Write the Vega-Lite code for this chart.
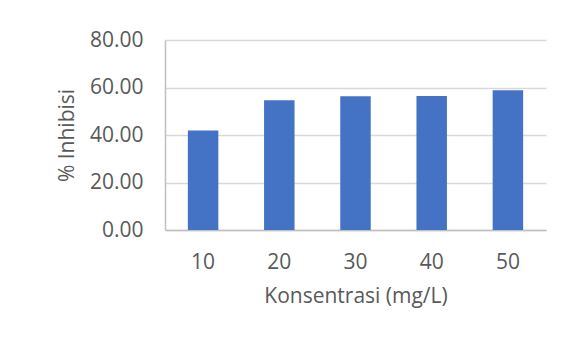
{
  "$schema": "https://vega.github.io/schema/vega-lite/v6.json",
  "autosize": "none",
  "width": 381,
  "height": 190,
  "padding": {"left": 165, "top": 40, "right": 25, "bottom": 113},
  "background": "white",
  "config": {
    "view": {"stroke": null},
    "font": "Open Sans",
    "axis": {
      "labelFont": "Open Sans",
      "titleFont": "Open Sans",
      "labelColor": "#595959",
      "titleColor": "#595959",
      "labelFontSize": 21,
      "titleFontSize": 21,
      "titleFontWeight": "normal",
      "ticks": false,
      "gridColor": "#d9d9d9",
      "gridWidth": 1.3,
      "domainColor": "#bfbfbf",
      "domainWidth": 1.5
    }
  },
  "data": {
    "values": [
      {"konsentrasi": "10", "inhibisi": 41.9},
      {"konsentrasi": "20", "inhibisi": 54.6},
      {"konsentrasi": "30", "inhibisi": 56.3},
      {"konsentrasi": "40", "inhibisi": 56.4},
      {"konsentrasi": "50", "inhibisi": 58.8}
    ]
  },
  "mark": {"type": "bar", "color": "#4472c4"},
  "encoding": {
    "x": {
      "field": "konsentrasi",
      "type": "ordinal",
      "sort": null,
      "scale": {"paddingInner": 0.6, "paddingOuter": 0.3},
      "axis": {
        "title": "Konsentrasi (mg/L)",
        "labelAngle": 0,
        "labelPadding": 21,
        "titlePadding": 13,
        "grid": false
      }
    },
    "y": {
      "field": "inhibisi",
      "type": "quantitative",
      "scale": {"domain": [0, 80], "nice": false},
      "axis": {
        "title": "% Inhibisi",
        "values": [0, 20, 40, 60, 80],
        "format": ".2f",
        "labelPadding": 22,
        "titlePadding": 12,
        "grid": true
      }
    }
  }
}
